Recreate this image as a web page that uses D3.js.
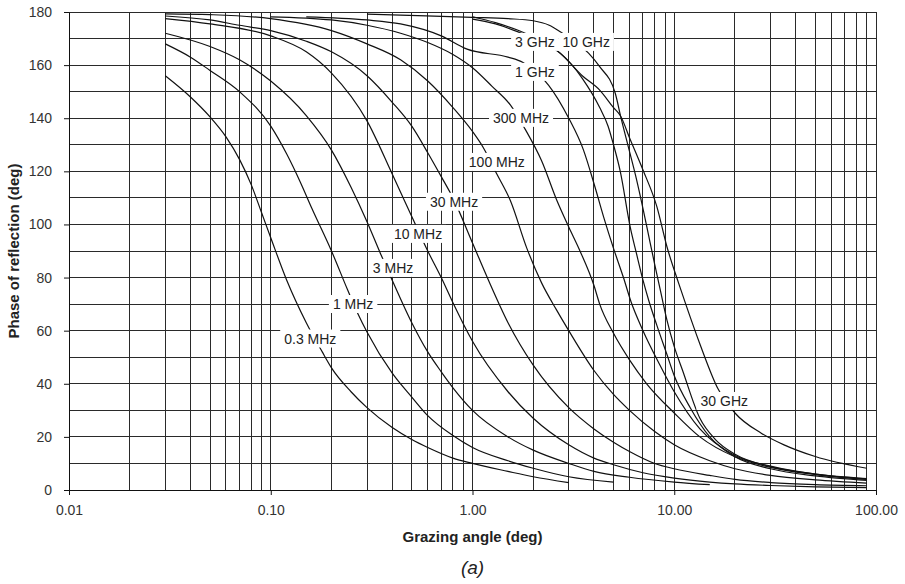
<!DOCTYPE html>
<html>
<head>
<meta charset="utf-8">
<script src="https://cdn.jsdelivr.net/npm/d3@7"></script>
<style>
  body { margin: 0; background: #fff; }
  svg text { font-family: "Liberation Sans", Arial, sans-serif; fill: #222; }
</style>
</head>
<body>
<svg id="chart" width="905" height="584"></svg>
<script>
// Phase of reflection vs grazing angle, one curve per frequency.
// Each entry is [grazing angle (deg), phase (deg)].
var f03MHz = [[0.03,156],[0.04,148],[0.05,140.5],[0.06,133],[0.07,124.5],[0.08,115],[0.09,104.5],[0.1,95],[0.12,79],[0.15,63],[0.18,52],[0.2,46],[0.25,37],[0.3,31],[0.4,23.5],[0.5,19],[0.6,16],[0.8,12],[1,10],[1.5,7],[2,5],[3,2.8]];
var f1MHz = [[0.03,168],[0.04,163],[0.05,158],[0.07,150],[0.1,137],[0.12,126.5],[0.14,116],[0.16,106],[0.2,90],[0.24,75.5],[0.27,66.5],[0.3,59.5],[0.4,44],[0.5,35],[0.6,28],[0.8,20.5],[1,16],[1.5,11],[2,8.2],[3,5],[5,3]];
var f3MHz = [[0.03,172],[0.05,167],[0.07,162],[0.1,154],[0.15,141],[0.2,128],[0.25,114],[0.3,101],[0.35,89],[0.4,79],[0.5,63],[0.6,52],[0.7,44.5],[0.8,38.5],[1,30],[1.5,20],[2,15],[3,10],[4,7],[6,4.8],[10,3],[15,2]];
var f10MHz = [[0.03,177.5],[0.05,175.5],[0.1,171],[0.15,165],[0.2,157],[0.3,139],[0.4,119],[0.5,103],[0.6,90],[0.7,80],[0.8,70.5],[1,56],[1.5,37],[2,27],[3,17],[4,12],[5,9.5],[7,6.5],[10,4.5],[15,3],[20,2.3],[30,1.7],[50,1.2],[90,0.9]];
var f30MHz = [[0.03,178.5],[0.05,177],[0.07,175],[0.1,173],[0.15,169],[0.2,165],[0.3,156],[0.4,146],[0.5,137],[0.6,127],[0.7,118],[0.8,110],[1,93],[1.2,79],[1.5,63],[2,47],[3,31],[4,23],[5,18],[6,14.5],[8,10],[10,8],[15,5.5],[20,4],[30,2.8],[50,2],[90,1.6]];
var f100MHz = [[0.03,179.3],[0.05,179],[0.1,177.5],[0.2,173],[0.3,168],[0.44,162],[0.6,154],[0.8,144],[1,135],[1.13,129],[1.32,119],[1.54,109],[1.86,91],[2.2,78],[2.6,68],[3,60],[4,45],[5,36],[6,30],[8,22],[10,17],[15,11],[20,8],[30,5.5],[50,3.8],[90,2.6]];
var f300MHz = [[0.1,178.2],[0.2,177],[0.3,175],[0.44,172],[0.6,168.5],[0.8,164],[1,159],[1.25,152],[1.54,145],[1.82,136],[2.2,124],[2.62,109],[3,99],[3.41,90],[4,77],[4.27,70],[5,59],[6,49],[7.3,40],[10,29],[13.4,20],[20,12.5],[30,8.5],[50,5.8],[90,4]];
var f1GHz = [[0.15,178.2],[0.3,177],[0.44,175.5],[0.7,171],[0.94,166],[1.5,163],[1.78,161],[2.1,157],[2.38,152.5],[3,140],[3.55,128],[4.05,114],[4.5,102],[5,91],[5.6,80],[6.1,71],[7,60],[8.5,47],[10,37],[13.4,23],[20,13],[30,9],[50,6],[90,4.2]];
var f3GHz = [[1,177.3],[1.3,175.5],[1.67,172.6],[2.2,168.5],[2.72,164.5],[3.5,155],[4.27,144],[4.7,137],[5,130],[5.4,120],[6.05,99],[6.5,89],[7,79],[7.5,71],[8.2,62],[9.2,51],[10,43],[12,31],[15,20],[20,12.5],[30,8],[50,5.3],[90,3.6]];
var f10GHz = [[0.3,179.2],[0.44,178.8],[1,178],[1.5,177.5],[2,176.7],[2.4,175],[2.72,172.6],[3.2,169],[3.76,164.5],[4.27,159.4],[5.1,149.4],[5.45,140],[5.93,129],[6.5,117],[7,106],[7.6,93],[8,85],[8.6,74],[9.2,64],[10,54],[11,45],[13.4,27],[16,19],[20,13.5],[30,8.8],[50,6],[90,4.3]];
var f30GHz = [[1,178.2],[1.3,176],[1.67,173.2],[2.2,169],[2.72,164.5],[3.5,156],[4.27,150.6],[5,144],[5.4,141],[6.05,132],[7,120.5],[8.2,106.7],[9.2,91.6],[10.5,78],[11.4,70],[13.4,55],[16.5,38],[20,29],[27,21.4],[35,17],[50,12.6],[90,8.2]];

var curves = [f03MHz, f1MHz, f3MHz, f10MHz, f30MHz, f100MHz, f300MHz, f1GHz, f3GHz, f10GHz, f30GHz];

// curve labels, placed at [angle, phase]
var labelText  = ["0.3 MHz","1 MHz","3 MHz","10 MHz","30 MHz","100 MHz","300 MHz","1 GHz","3 GHz","10 GHz","30 GHz"];
var labelAngle = [0.157, 0.256, 0.404, 0.537, 0.81, 1.32, 1.74, 2.04, 2.04, 3.66, 17.7];
var labelPhase = [57, 70, 83.6, 96.4, 108.5, 123.5, 140.1, 157.4, 168.7, 168.7, 33.5];

// axis ticks
var xTickValues = [0.01, 0.1, 1, 10, 100];
var xTickLabels = ["0.01", "0.10", "1.00", "10.00", "100.00"];
var yTickValues = [0, 20, 40, 60, 80, 100, 120, 140, 160, 180];

var m = {left: 69, right: 876, top: 12, bottom: 490};
var svg = d3.select("#chart");

var x = d3.scaleLog().domain([0.01, 100]).range([m.left, m.right]);
var y = d3.scaleLinear().domain([0, 180]).range([m.bottom, m.top]);

// grid: every 1..9 of each decade, every 10 degrees
var grid = svg.append("g").attr("class", "grid")
    .style("shape-rendering", "crispEdges");
grid.selectAll("line.v")
    .data(x.ticks())
  .enter().append("line")
    .attr("class", "v")
    .attr("x1", function(d) { return x(d); })
    .attr("x2", function(d) { return x(d); })
    .attr("y1", m.top)
    .attr("y2", m.bottom)
    .style("stroke", "#2a2a2a")
    .style("stroke-width", 1);
grid.selectAll("line.h")
    .data(y.ticks(18))
  .enter().append("line")
    .attr("class", "h")
    .attr("x1", m.left)
    .attr("x2", m.right)
    .attr("y1", function(d) { return y(d); })
    .attr("y2", function(d) { return y(d); })
    .style("stroke", "#2a2a2a")
    .style("stroke-width", 1);

// axes
var xAxis = d3.axisBottom(x)
    .tickValues(xTickValues)
    .tickFormat(function(d, i) { return xTickLabels[i]; })
    .tickSize(5)
    .tickSizeOuter(0)
    .tickPadding(10);
var yAxis = d3.axisLeft(y)
    .tickValues(yTickValues)
    .tickFormat(d3.format("d"))
    .tickSize(5)
    .tickSizeOuter(0)
    .tickPadding(12);

svg.append("g")
    .attr("transform", "translate(0," + m.bottom + ")")
    .call(xAxis);
svg.append("g")
    .attr("transform", "translate(" + m.left + ",0)")
    .call(yAxis);

svg.selectAll(".domain").style("stroke", "#111");
svg.selectAll(".tick line").style("stroke", "#111");
svg.selectAll(".tick text")
    .style("font-size", "14px")
    .style("font-family", "'Liberation Sans', Arial, sans-serif")
    .style("fill", "#333");

// the curves
var line = d3.line()
    .x(function(d) { return x(d[0]); })
    .y(function(d) { return y(d[1]); })
    .curve(d3.curveMonotoneX);

svg.append("g").selectAll("path.curve")
    .data(curves)
  .enter().append("path")
    .attr("class", "curve")
    .attr("d", line)
    .style("fill", "none")
    .style("stroke", "#111")
    .style("stroke-width", 1.2);

// labels with white boxes over the curves
var labels = svg.append("g").selectAll("g.lab")
    .data(labelText)
  .enter().append("g")
    .attr("class", "lab")
    .attr("transform", function(d, i) {
        return "translate(" + x(labelAngle[i]) + "," + y(labelPhase[i]) + ")";
    });
labels.append("rect").style("fill", "#fff");
labels.append("text")
    .attr("text-anchor", "middle")
    .attr("dy", "0.35em")
    .style("font-size", "14px")
    .text(function(d) { return d; });
labels.each(function() {
    var g = d3.select(this);
    var b = g.select("text").node().getBBox();
    g.select("rect")
        .attr("x", b.x - 4)
        .attr("y", b.y - 1)
        .attr("width", b.width + 8)
        .attr("height", b.height + 2);
});

// axis titles
svg.append("text")
    .attr("x", (m.left + m.right) / 2)
    .attr("y", 542)
    .attr("text-anchor", "middle")
    .style("font-size", "15px")
    .style("font-weight", "bold")
    .text("Grazing angle (deg)");
svg.append("text")
    .attr("transform", "translate(19," + ((m.top + m.bottom) / 2) + ") rotate(-90)")
    .attr("text-anchor", "middle")
    .style("font-size", "15px")
    .style("font-weight", "bold")
    .text("Phase of reflection (deg)");
svg.append("text")
    .attr("x", (m.left + m.right) / 2)
    .attr("y", 574)
    .attr("text-anchor", "middle")
    .style("font-size", "19px")
    .style("font-style", "italic")
    .text("(a)");
</script>
</body>
</html>
